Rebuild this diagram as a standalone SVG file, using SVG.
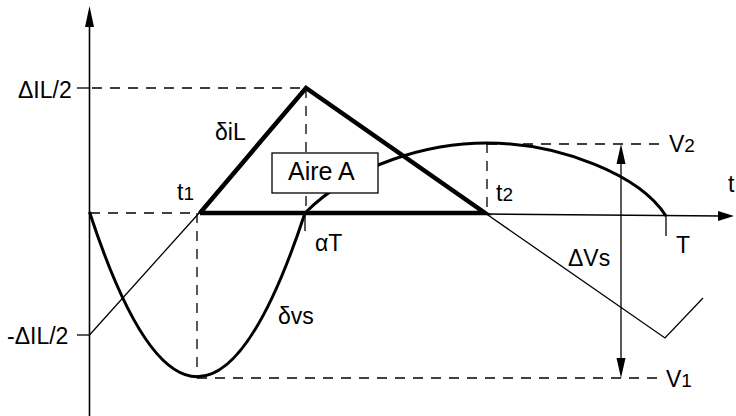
<svg xmlns="http://www.w3.org/2000/svg" width="736" height="416" viewBox="0 0 736 416">
<style>
.thin{fill:none;stroke:#000;stroke-width:1.3}
.dash{fill:none;stroke:#000;stroke-width:1.3;stroke-dasharray:10,8}
.thick{fill:none;stroke:#000;stroke-width:4.5;stroke-linejoin:miter}
.curve{fill:none;stroke:#000;stroke-width:3}
.head{fill:#000;stroke:none}
text{font-family:"Liberation Sans",Arial,sans-serif;font-size:23px;fill:#000}
.sub{font-size:19px}
</style>
<rect width="736" height="416" fill="#fff"/>
<g id="axes">
<line class="thin" x1="89.5" y1="20" x2="89.5" y2="416" style="stroke-width:1.6"/>
<polygon class="head" points="89.5,6 85,27 94,27"/>
<line class="dash" x1="90" y1="213" x2="200" y2="213"/>
<line class="thin" x1="485" y1="214" x2="722" y2="216" style="stroke-width:1.5"/>
<polygon class="head" points="734,216 718,211 718,221"/>
<line class="thin" x1="77" y1="88" x2="89" y2="88"/>
<line class="thin" x1="77" y1="335" x2="89" y2="335"/>
</g>
<g id="guides">
<line class="dash" x1="92" y1="88" x2="306" y2="88"/>
<line class="dash" x1="306" y1="88" x2="306" y2="213"/>
<line class="dash" x1="197" y1="213" x2="197" y2="377"/>
<line class="dash" x1="487" y1="143" x2="487" y2="213"/>
<line class="dash" x1="487" y1="144" x2="662" y2="144"/>
<line class="dash" x1="197" y1="378" x2="662" y2="378"/>
<line class="thin" x1="305" y1="213" x2="305" y2="231"/>
<line class="thin" x1="666" y1="215" x2="666" y2="236"/>
</g>
<g id="current">
<polyline class="thin" points="89.5,335 200,212"/>
<polyline class="thin" points="485,213 665,338 703,298"/>
<polyline class="thick" points="200,213 306,88 485,213 200,213"/>
</g>
<g id="voltage">
<path class="curve" d="M89.5,212 Q197,541 305,213 C355,163 430,143 487,143 C560,143 640,175 666,216"/>
</g>
<g id="deltaVs">
<line class="thin" x1="621" y1="160" x2="621" y2="362"/>
<polygon class="head" points="621,144 616.5,164 625.5,164"/>
<polygon class="head" points="621,378 616.5,358 625.5,358"/>
</g>
<g id="aire">
<rect x="272" y="153" width="106" height="40" fill="#fff" stroke="#000" stroke-width="1.3"/>
<text x="288" y="180" style="font-size:25px">Aire A</text>
</g>
<g id="labels">
<text x="18" y="98">ΔIL/2</text>
<text x="7" y="344">-ΔIL/2</text>
<text x="215" y="140">δiL</text>
<text x="177" y="200">t<tspan class="sub">1</tspan></text>
<text x="496" y="201">t<tspan class="sub">2</tspan></text>
<text x="315" y="251">αT</text>
<text x="278" y="324">δvs</text>
<text x="568" y="266">ΔVs</text>
<text x="676" y="253">T</text>
<text x="669" y="152">V<tspan class="sub">2</tspan></text>
<text x="666" y="387">V<tspan class="sub">1</tspan></text>
<text x="728" y="192">t</text>
</g>
</svg>
